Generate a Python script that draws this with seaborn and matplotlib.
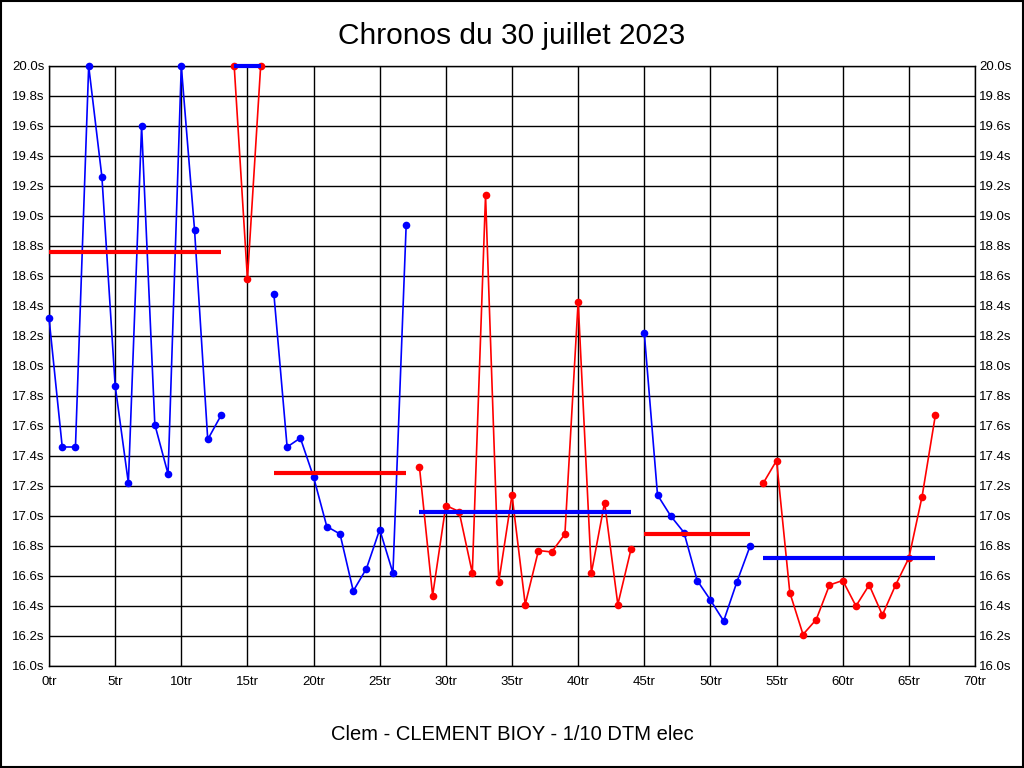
import numpy as np
import pandas as pd
import seaborn as sns
import matplotlib.pyplot as plt
from matplotlib.patches import Rectangle

# lap times (seconds), laps 0..67
lap_times = [18.32, 17.46, 17.46, 20.00, 19.26, 17.87, 17.22, 19.60, 17.61, 17.28,
             20.00, 18.91, 17.51, 17.67,
             20.00, 18.58, 20.00,
             18.48, 17.46, 17.52, 17.26, 16.93, 16.88, 16.50, 16.65, 16.91, 16.62, 18.94,
             17.33, 16.47, 17.07, 17.03, 16.62, 19.14, 16.56, 17.14, 16.41, 16.77,
             16.76, 16.88, 18.43, 16.62, 17.09, 16.41, 16.78,
             18.22, 17.14, 17.00, 16.89, 16.57, 16.44, 16.30, 16.56, 16.80,
             17.22, 17.37, 16.49, 16.21, 16.31, 16.54, 16.57, 16.40, 16.54, 16.34,
             16.54, 16.72, 17.13, 17.67]

# runs: first / last lap, colour of the trace, level of the average bar
seg_start = [0, 14, 17, 28, 45, 54]
seg_end = [13, 16, 27, 44, 53, 67]
seg_color = ["#0000ff", "#ff0000", "#0000ff", "#ff0000", "#0000ff", "#ff0000"]
avg_color = ["#ff0000", "#0000ff", "#ff0000", "#0000ff", "#ff0000", "#0000ff"]
seg_avg = [18.76, 20.00, 17.29, 17.03, 16.88, 16.72]

x_ticks = list(range(0, 71, 5))
y_ticks = np.round(np.arange(16.0, 20.01, 0.2), 1)

df = pd.DataFrame({"lap": range(len(lap_times)), "time": lap_times})

sns.set_style("white")
plt.rcParams["font.family"] = ["Liberation Sans", "DejaVu Sans"]
plt.rcParams["text.color"] = "black"
plt.rcParams["axes.labelcolor"] = "black"

fig = plt.figure(figsize=(10.24, 7.68), dpi=100)
ax = fig.add_axes([49 / 1024, 102 / 768, 926 / 1024, 600 / 768])

for s, e, c in zip(seg_start, seg_end, seg_color):
    part = df[(df["lap"] >= s) & (df["lap"] <= e)]
    sns.lineplot(data=part, x="lap", y="time", ax=ax, color=c, lw=1.2,
                 marker="o", markersize=5.5, markeredgewidth=0, zorder=3,
                 clip_on=False)

for s, e, c, a in zip(seg_start, seg_end, avg_color, seg_avg):
    ax.hlines(a, s, e, colors=c, lw=3, zorder=4, clip_on=False)

ax.set_xlim(0, 70)
ax.set_ylim(16.0, 20.0)
ax.set_xticks(x_ticks)
ax.set_xticklabels([f"{t}tr" for t in x_ticks])
ax.set_yticks(y_ticks)
ax.set_yticklabels([f"{t:.1f}s" for t in y_ticks])
ax.grid(True, color="black", lw=1)
ax.set_axisbelow(True)
for sp in ax.spines.values():
    sp.set_color("black")
    sp.set_linewidth(1)
ax.tick_params(axis="both", length=0, labelsize=9.5, colors="black")
ax.tick_params(axis="y", right=True, labelright=True, pad=3)
ax.tick_params(axis="x", pad=7)

ax.set_xlabel("Clem - CLEMENT BIOY - 1/10 DTM elec", fontsize=14.5, labelpad=27)
ax.set_ylabel("")
fig.suptitle("Chronos du 30 juillet 2023", fontsize=21.5, y=0.971)

fig.patches.append(Rectangle((0.001, 0.001), 0.998, 0.998, transform=fig.transFigure,
                             fill=False, edgecolor="black", lw=1.5))

fig.savefig("out.png", dpi=100)
